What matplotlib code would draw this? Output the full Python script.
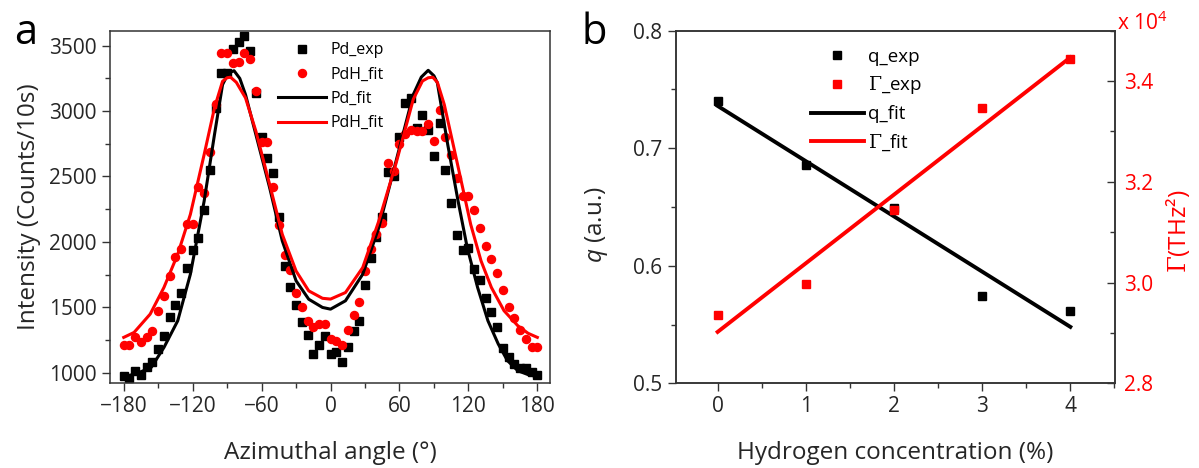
import numpy as np
import matplotlib
matplotlib.use('Agg')
import matplotlib.pyplot as plt
from matplotlib.ticker import MultipleLocator, FormatStrFormatter

plt.rcParams['font.family'] = ['Open Sans', 'DejaVu Sans']
plt.rcParams['mathtext.fontset'] = 'custom'
plt.rcParams['mathtext.rm'] = 'DejaVu Serif'
plt.rcParams['mathtext.it'] = 'Open Sans:italic'
plt.rcParams['mathtext.sf'] = 'Open Sans'

# ---- panel a data: azimuthal scans (5 degree steps) ----
angle = np.arange(-180, 185, 5)
pd_exp = [976, 958, 1014, 984, 1040, 1083, 1180, 1282, 1427, 1515,
          1605, 1803, 1938, 2027, 2241, 2546, 3025, 3292, 3294, 3475,
          3525, 3572, 3462, 3142, 2803, 2642, 2527, 2188, 1816, 1651,
          1515, 1383, 1289, 1141, 1213, 1282,
          1141,
          1154, 1078, 1193, 1315, 1396, 1671, 1874, 2037, 2190, 2537,
          2500, 2805, 3062, 3100, 2870, 2970, 2856, 2658, 2910, 2548,
          2294, 2056, 1935, 1955, 1790, 1706, 1574, 1460, 1345, 1187,
          1116, 1065, 1034, 1034, 1001, 985]
pdh_exp = [1213, 1213, 1274, 1236, 1274, 1320, 1473, 1587, 1740, 1885,
           1943, 2139, 2139, 2419, 2375, 2690, 3058, 3444, 3444, 3368,
           3376, 3442, 3402, 3156, 2766, 2766, 2421, 2130, 1900, 1782,
           1605, 1503, 1396, 1345, 1370, 1370,
           1260,
           1238, 1213, 1325, 1442, 1543, 1777, 1943, 2063, 2147, 2604,
           2540, 2750, 2828, 2858, 2850, 2850, 2900, 2774, 3010, 2800,
           2667, 2487, 2352, 2352, 2240, 2109, 1968, 1866, 1765, 1630,
           1503, 1421, 1325, 1256, 1192, 1192]

# fit curves
pd_fit_x = [-180, -168, -156, -145, -133, -122, -110, -101, -94, -89, -84,
            -79, -74, -65, -53, -42, -30, -19, -7, 0, 13, 28, 42, 57,
            72, 79, 85, 90, 93, 102, 111, 119, 128, 137, 146, 154, 163, 172, 180]
pd_fit = [965, 995, 1040, 1192, 1396, 1752, 2312, 2821, 3202, 3290, 3309,
          3250, 3126, 2821, 2414, 2007, 1702, 1561, 1498, 1485, 1549, 1752, 2108, 2617,
          3126, 3260, 3312, 3270, 3215, 2744, 2312, 1955, 1651, 1396, 1218, 1091, 1014, 984, 969]
pdh_fit_x = [-180, -171, -157, -145, -133, -122, -110, -101, -94, -90, -87,
             -82, -74, -65, -53, -42, -30, -19, -7, 0, 13, 28, 42, 57,
             72, 80, 85, 89, 93, 99, 108, 115, 122, 131, 140, 151, 163, 172, 180]
pdh_fit = [1269, 1307, 1447, 1651, 1905, 2210, 2668, 3025, 3228, 3255, 3259,
           3220, 3101, 2847, 2439, 2057, 1777, 1625, 1568, 1562, 1612, 1803, 2159, 2600,
           3090, 3230, 3255, 3259, 3220, 3050, 2694, 2414, 2133, 1854, 1651, 1473, 1358, 1300, 1269]

# ---- panel b data ----
h_conc = [0, 1, 2, 3, 4]
q_exp = [0.740, 0.686, 0.649, 0.574, 0.5615]
gamma_exp = [2.936, 2.998, 3.145, 3.347, 3.444]   # x 10^4 THz^2
fit_x = [0, 4]
q_fit = [0.736, 0.548]
gamma_fit = [2.902, 3.447]

tick_col = '#262626'
spine_col = '#333333'

fig = plt.figure(figsize=(11.99, 4.68), dpi=100)

# ================= panel a =================
ax = fig.add_axes([0.0917, 0.1816, 0.367, 0.7528])
ax.plot(angle, pd_exp, 's', color='black', ms=5.5, label='Pd_exp')
ax.plot(angle, pdh_exp, 'o', color='red', ms=5.8, mec='red', label='PdH_fit')
ax.plot(pd_fit_x, pd_fit, '-', color='black', lw=2.2, label='Pd_fit')
ax.plot(pdh_fit_x, pdh_fit, '-', color='red', lw=2.2, label='PdH_fit')
ax.set_xlim(-192, 191)
ax.set_ylim(920, 3615)
ax.set_xticks([-180, -120, -60, 0, 60, 120, 180])
ax.xaxis.set_minor_locator(MultipleLocator(30))
ax.set_yticks([1000, 1500, 2000, 2500, 3000, 3500])
ax.yaxis.set_minor_locator(MultipleLocator(250))
ax.tick_params(which='both', direction='out', colors=spine_col, labelcolor=tick_col,
               labelsize=15, top=False, right=False)
ax.tick_params(which='major', length=6, width=1)
ax.tick_params(which='minor', length=3.5, width=1)
for s in ax.spines.values():
    s.set_color(spine_col)
    s.set_linewidth(1.1)
ax.set_xlabel('Azimuthal angle (°)', fontsize=17.5, color=tick_col, labelpad=17)
ax.set_ylabel('Intensity (Counts/10s)', fontsize=17.5, color=tick_col, labelpad=6)
ax.legend(loc='upper left', bbox_to_anchor=(0.383, 0.967), frameon=False,
          fontsize=11.5, handlelength=3.0, handletextpad=0.25, labelspacing=0.52,
          borderpad=0, borderaxespad=0, numpoints=1)
fig.text(0.012, 0.905, 'a', fontsize=30, color='black')

# ================= panel b =================
bx = fig.add_axes([0.5636, 0.1810, 0.3666, 0.7534])
bx2 = bx.twinx()
l1, = bx.plot(h_conc, q_exp, 's', color='black', ms=6, label='q_exp')
l3, = bx.plot(fit_x, q_fit, '-', color='black', lw=2.8, label='q_fit')
l2, = bx2.plot(h_conc, gamma_exp, 's', color='red', ms=6, label=r'$\Gamma$_exp')
l4, = bx2.plot(fit_x, gamma_fit, '-', color='red', lw=2.8, label=r'$\Gamma$_fit')
bx.set_xlim(-0.475, 4.51)
bx.set_ylim(0.5, 0.8)
bx2.set_ylim(2.8, 3.5)
bx.set_xticks(h_conc)
bx.xaxis.set_minor_locator(MultipleLocator(0.5))
bx.set_yticks([0.5, 0.6, 0.7, 0.8])
bx.yaxis.set_minor_locator(MultipleLocator(0.05))
bx2.set_yticks([2.8, 3.0, 3.2, 3.4])
bx2.yaxis.set_minor_locator(MultipleLocator(0.1))
bx2.yaxis.set_major_formatter(FormatStrFormatter('%.1f'))
bx.tick_params(which='both', direction='out', colors=spine_col, labelcolor=tick_col,
               labelsize=15, top=False, right=False)
bx.tick_params(which='major', length=6, width=1)
bx.tick_params(which='minor', length=3.5, width=1)
bx2.tick_params(which='both', direction='in', colors=spine_col, labelcolor='red',
                labelsize=15, pad=6)
bx2.tick_params(which='major', length=6, width=1)
bx2.tick_params(which='minor', length=3.5, width=1)
for a in (bx, bx2):
    for s in a.spines.values():
        s.set_color(spine_col)
        s.set_linewidth(1.1)
bx.set_xlabel('Hydrogen concentration (%)', fontsize=17.5, color=tick_col, labelpad=17)
bx.set_ylabel('$q$ (a.u.)', fontsize=17.5, color=tick_col)
bx.yaxis.set_label_coords(-0.15, 0.45)
bx2.set_ylabel(r'$\Gamma$(THz²)', fontsize=17.5, color='red')
bx2.yaxis.set_label_coords(1.11, 0.432)
bx.legend(handles=[l1, l2, l3, l4], loc='upper left', bbox_to_anchor=(0.308, 0.952),
          frameon=False, fontsize=13.5, handlelength=2.8, handletextpad=0.25,
          labelspacing=0.47, borderpad=0, borderaxespad=0, numpoints=1)
fig.text(0.932, 0.935, r'x 10$^{\mathsf{4}}$', fontsize=15, color='red')
fig.text(0.485, 0.905, 'b', fontsize=30, color='black')

fig.savefig('out.png', dpi=100)
